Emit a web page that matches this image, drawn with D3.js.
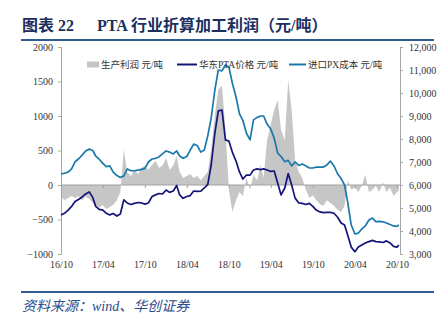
<!DOCTYPE html>
<html>
<head>
<meta charset="utf-8">
<script src="https://cdn.jsdelivr.net/npm/d3@7"></script>
<style>
  body { margin: 0; background: #fff; }
  svg { display: block; }
</style>
</head>
<body>
<svg id="chart" width="443" height="322"></svg>
<script>
// half-monthly observations, Oct 2016 - Oct 2020
const dates = [
  "2016-10-01","2016-10-16","2016-11-01","2016-11-16","2016-12-01","2016-12-16",
  "2017-01-01","2017-01-16","2017-02-01","2017-02-16","2017-03-01","2017-03-16",
  "2017-04-01","2017-04-16","2017-05-01","2017-05-16","2017-06-01","2017-06-16",
  "2017-07-01","2017-07-16","2017-08-01","2017-08-16","2017-09-01","2017-09-16",
  "2017-10-01","2017-10-16","2017-11-01","2017-11-16","2017-12-01","2017-12-16",
  "2018-01-01","2018-01-16","2018-02-01","2018-02-16","2018-03-01","2018-03-16",
  "2018-04-01","2018-04-16","2018-05-01","2018-05-16","2018-06-01","2018-06-16",
  "2018-07-01","2018-07-16","2018-08-01","2018-08-16","2018-09-01","2018-09-16",
  "2018-10-01","2018-10-16","2018-11-01","2018-11-16","2018-12-01","2018-12-16",
  "2019-01-01","2019-01-16","2019-02-01","2019-02-16","2019-03-01","2019-03-16",
  "2019-04-01","2019-04-16","2019-05-01","2019-05-16","2019-06-01","2019-06-16",
  "2019-07-01","2019-07-16","2019-08-01","2019-08-16","2019-09-01","2019-09-16",
  "2019-10-01","2019-10-16","2019-11-01","2019-11-16","2019-12-01","2019-12-16",
  "2020-01-01","2020-01-16","2020-02-01","2020-02-16","2020-03-01","2020-03-16",
  "2020-04-01","2020-04-16","2020-05-01","2020-05-16","2020-06-01","2020-06-16",
  "2020-07-01","2020-07-16","2020-08-01","2020-08-16","2020-09-01","2020-09-16",
  "2020-10-01","2020-10-09"
];

// 生产利润 元/吨 (left axis)
const profit = [
  -170, -220, -190, -160, -190, -160, -220, -170, -200, -260, -290, -330,
  -290, -350, -320, -290, -220, -100,  510,  190,  130,  220,  160,  250,
   280,  220,  290,  350,  250,  280,  390,  220,  280,  420,  190,  100,
   130,  160,  100,  130,   70,  130,  190,  510, 1010, 1380, 1440,  800,
   -70, -390, -220, -100, -160,  100,  -70,  150,   70,  290,  100,  650,
   870, 1090, 1230,  800,  650, 1520, 1090,  360,  190,  100,  -70, -190,
  -150, -220, -280, -300, -220, -260, -300, -360, -390, -300,   70,  -70,
   -40, -100,  -10,  150, -100,  -70,  -10, -100,   40, -100,  -40, -160,
  -100,  -80
];

// 华东PTA价格 元/吨 (right axis)
const ptaPrice = [
  4700, 4770, 4910, 5070, 5280, 5370, 5480, 5610, 5700, 5460, 5070, 4940,
  4910, 4770, 4700, 4760, 4650, 4740, 5350, 5220, 5150, 5200, 5240, 5220,
  5170, 5220, 5500, 5570, 5630, 5610, 5780, 5680, 5740, 5980, 5570, 5420,
  5500, 5540, 5740, 5720, 5730, 5870, 6020, 6870, 8260, 9220, 9260, 7960,
  7910, 7430, 7040, 6570, 6260, 6430, 6430, 6650, 6700, 6670, 6700, 6650,
  6590, 6610, 6090, 5570, 5870, 6500, 6000, 5430, 5220, 5200, 5150, 5200,
  5070, 4910, 4830, 4800, 4810, 4810, 4770, 4610, 4350, 4260, 3800, 3300,
  3100, 3300, 3390, 3480, 3540, 3590, 3540, 3530, 3500, 3570, 3480, 3330,
  3300, 3390
];

// 进口PX成本 元/吨 (right axis)
const pxCost = [
  6480, 6510, 6560, 6700, 7010, 7130, 7300, 7480, 7560, 7500, 7260, 7120,
  6940, 6800, 6830, 6560, 6410, 6330, 6390, 6700, 6620, 6620, 6650, 6680,
  6720, 7000, 7130, 7160, 7220, 7350, 7480, 7430, 7350, 7480, 7260, 7160,
  7240, 7520, 7780, 7720, 7430, 7520, 8130, 8910, 10130, 11000, 10960, 11220,
  11130, 10430, 9830, 9090, 8800, 8260, 7960, 8830, 8940, 9000, 9000, 8650,
  8430, 8040, 7390, 7240, 7010, 7070, 6830, 7000, 6850, 6910, 6830, 6740,
  6740, 6780, 6780, 6780, 6870, 7040, 6830, 6500, 6280, 6000, 5220, 4260,
  3870, 3910, 4090, 4220, 4480, 4560, 4410, 4420, 4400, 4350, 4280, 4220,
  4200, 4260
];

const leftTicks = [-1000, -500, 0, 500, 1000, 1500, 2000];
const rightTicks = [3000, 4000, 5000, 6000, 7000, 8000, 9000, 10000, 11000, 12000];
const monthTicks = ["2016-10-01", "2017-04-01", "2017-10-01", "2018-04-01", "2018-10-01",
                    "2019-04-01", "2019-10-01", "2020-04-01", "2020-10-01"];

const parse = d3.utcParse("%Y-%m-%d");
const rows = dates.map((d, i) => ({
  date: parse(d), profit: profit[i], pta: ptaPrice[i], px: pxCost[i]
}));

const svg = d3.select("#chart");
const serif = "'Liberation Serif', 'Times New Roman', 'Noto Sans CJK SC', serif";
const cjk = "'Liberation Serif', 'Noto Sans CJK SC', sans-serif";

const plotL = 61, plotR = 400, plotT = 47, plotB = 254;

const x = d3.scaleUtc()
  .domain([parse("2016-10-01"), parse("2020-10-01")])
  .range([61, 397]);
const yL = d3.scaleLinear().domain([-1000, 2000]).range([plotB, plotT]);
const yR = d3.scaleLinear().domain([3000, 12000]).range([plotB, plotT]);

// title and header rule
svg.append("text")
  .attr("x", 22).attr("y", 31)
  .attr("font-family", cjk).attr("font-size", 16).attr("font-weight", "bold")
  .attr("fill", "#1b2f5e")
  .call(t => {
    t.append("tspan").text("图表 22");
    t.append("tspan").attr("x", 97).text("PTA 行业折算加工利润（元/吨）");
  });
svg.append("line")
  .attr("x1", 21).attr("x2", 434).attr("y1", 40).attr("y2", 40)
  .attr("stroke", "#2f5b92").attr("stroke-width", 2);

// profit area (left axis)
svg.append("path")
  .datum(rows)
  .attr("fill", "#c6c6c6")
  .attr("d", d3.area()
    .x(d => x(d.date))
    .y0(yL(0))
    .y1(d => yL(d.profit)));

// left axis
svg.append("g")
  .attr("transform", `translate(${plotL},0)`)
  .call(d3.axisLeft(yL).tickValues(leftTicks).tickSize(3).tickPadding(5)
    .tickFormat(d3.format("d")))
  .call(g => g.selectAll("path, line").attr("stroke", "#a6a6a6"))
  .call(g => g.selectAll("text").attr("fill", "#333")
    .attr("font-family", serif).attr("font-size", 10));

// right axis
svg.append("g")
  .attr("transform", `translate(${plotR},0)`)
  .call(d3.axisRight(yR).tickValues(rightTicks).tickSize(3).tickPadding(6)
    .tickFormat(d3.format(",")))
  .call(g => g.selectAll("path, line").attr("stroke", "#a6a6a6"))
  .call(g => g.selectAll("text").attr("fill", "#333")
    .attr("font-family", serif).attr("font-size", 10));

// time axis sits on the zero line, labels drop to the bottom
const xAxis = d3.axisBottom(x)
  .tickValues(monthTicks.map(parse))
  .tickSize(3)
  .tickSizeOuter(0)
  .tickFormat(d3.utcFormat("%y/%m"));
svg.append("g")
  .attr("transform", `translate(0,${yL(0)})`)
  .call(xAxis)
  .call(g => g.select(".domain").attr("d", `M${plotL},0H${plotR}`).attr("stroke", "#a0a0a0"))
  .call(g => g.selectAll(".tick line").attr("stroke", "#a0a0a0"))
  .call(g => g.selectAll(".tick text")
    .attr("y", plotB - yL(0) + 7)
    .attr("fill", "#333").attr("font-family", serif).attr("font-size", 10));

// price lines (right axis)
const series = [
  { key: "pta", color: "#14147a" },
  { key: "px", color: "#1a78aa" }
];
series.forEach(s => {
  svg.append("path")
    .datum(rows)
    .attr("fill", "none")
    .attr("stroke", s.color)
    .attr("stroke-width", 1.7)
    .attr("stroke-linejoin", "round")
    .attr("d", d3.line().x(d => x(d.date)).y(d => yR(d[s.key])));
});

// legend
const legend = svg.append("g")
  .attr("font-family", cjk).attr("font-size", 9.5).attr("fill", "#333");
legend.append("rect")
  .attr("x", 87).attr("y", 61.5).attr("width", 12).attr("height", 6)
  .attr("fill", "#c6c6c6");
legend.append("text").attr("x", 101).attr("y", 68).text("生产利润 元/吨");
legend.append("line")
  .attr("x1", 177).attr("x2", 197).attr("y1", 64.5).attr("y2", 64.5)
  .attr("stroke", "#14147a").attr("stroke-width", 2);
legend.append("text").attr("x", 199).attr("y", 68).text("华东PTA价格 元/吨");
legend.append("line")
  .attr("x1", 289).attr("x2", 306).attr("y1", 64.5).attr("y2", 64.5)
  .attr("stroke", "#1a78aa").attr("stroke-width", 2);
legend.append("text").attr("x", 308).attr("y", 68).text("进口PX成本 元/吨");

// source line
svg.append("line")
  .attr("x1", 21).attr("x2", 434).attr("y1", 292).attr("y2", 292)
  .attr("stroke", "#2f5b92").attr("stroke-width", 2);
svg.append("text")
  .attr("x", 22).attr("y", 311)
  .attr("font-family", cjk).attr("font-size", 14).attr("font-style", "italic")
  .attr("fill", "#2b4c8c")
  .text("资料来源：wind、华创证券");
</script>
</body>
</html>
